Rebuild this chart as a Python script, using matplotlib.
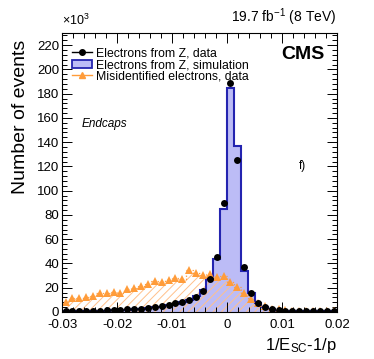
import matplotlib
matplotlib.use('Agg')
import matplotlib.pyplot as plt
from matplotlib.lines import Line2D
from matplotlib.patches import Patch
from matplotlib.ticker import MultipleLocator
import numpy as np

plt.rcParams['font.family'] = ['Liberation Sans', 'DejaVu Sans']
plt.rcParams['mathtext.fontset'] = 'custom'
plt.rcParams['mathtext.rm'] = 'Liberation Sans'
plt.rcParams['mathtext.it'] = 'Liberation Sans:italic'
plt.rcParams['hatch.linewidth'] = 0.7

# 40 bins of 0.00125 from -0.03 to 0.02, values in units of 10^3
edges = np.linspace(-0.03, 0.02, 41)
data_z = [0.8, 0.8, 0.8, 0.8, 0.9, 1.1, 1.3, 1.6, 1.7, 2.2,
          2.5, 2.8, 3.3, 4.1, 4.8, 5.8, 7.1, 8.0, 9.9, 12.6,
          17.6, 27.0, 45.0, 89.5, 189.0, 125.0, 37.3, 15.4, 7.7, 4.4,
          2.4, 1.4, 0.9, 0.7, 0.6, 0.6, 0.5, 0.5, 0.5, 0.5]
sim_z = [0.6, 0.6, 0.6, 0.7, 0.7, 0.9, 1.1, 1.3, 1.5, 1.9,
         2.2, 2.6, 3.0, 3.7, 4.5, 5.5, 6.8, 8.0, 10.0, 13.0,
         18.5, 27.5, 44.0, 85.0, 185.0, 137.0, 34.0, 15.9, 7.5, 4.0,
         2.1, 1.2, 0.8, 0.6, 0.5, 0.5, 0.4, 0.4, 0.4, 0.4]
misid = [8.3, 11.7, 11.7, 12.5, 13.3, 15.3, 15.6, 16.2, 15.6, 19.2,
         20.0, 21.5, 22.8, 25.4, 24.8, 26.6, 28.4, 27.0, 34.2, 32.5,
         30.6, 31.4, 29.2, 29.7, 25.0, 20.8, 15.3, 10.6, 7.0, 4.7,
         2.8, 2.2, 1.5, 1.2, 1.0, 0.8, 0.7, 0.6, 0.6, 0.5]

centers = 0.5 * (edges[:-1] + edges[1:])
blue_fill = '#bcbcf6'
blue_edge = '#2424b0'
orange = '#ff9c3a'

fig = plt.figure(figsize=(3.74, 3.59), dpi=100)
ax = fig.add_axes([0.166, 0.131, 0.735, 0.777])

# simulation histogram
ax.stairs(sim_z, edges, fill=True, color=blue_fill, lw=0)
# misidentified: hatched area with dotted outline
ax.stairs(misid, edges, fill=True, facecolor='none', edgecolor='#ffc08a',
          hatch='////', lw=0)
ax.stairs(misid, edges, color=orange, lw=0.9, ls=(0, (1, 1.5)))
ax.stairs(sim_z, edges, color=blue_edge, lw=1.5)

ax.plot(centers, misid, '^', color=orange, ms=5.2, mew=0)
ax.plot(centers, data_z, 'o', color='black', ms=5, mew=0)

ax.set_xlim(-0.03, 0.02)
ax.set_ylim(0, 230)
ax.xaxis.set_major_locator(MultipleLocator(0.01))
ax.xaxis.set_minor_locator(MultipleLocator(0.002))
ax.yaxis.set_major_locator(MultipleLocator(20))
ax.yaxis.set_minor_locator(MultipleLocator(4))
ax.tick_params(which='both', direction='in', top=True, right=True,
               labelsize=9.5, width=0.7)
ax.tick_params(which='major', length=7, pad=2)
ax.tick_params(axis='x', which='major', pad=5)
ax.tick_params(which='minor', length=3.5)
ax.set_xticks([-0.03, -0.02, -0.01, 0, 0.01, 0.02])
ax.set_xticklabels(['-0.03', '-0.02', '-0.01', '0', '0.01', '0.02'])
for s in ax.spines.values():
    s.set_linewidth(0.8)

ax.set_ylabel('Number of events', fontsize=14, labelpad=6, y=0.975, ha='right')
ax.set_xlabel(r'1/E$_{\mathrm{SC}}$-1/p', loc='right', fontsize=12, labelpad=4)

fig.text(0.166, 0.922, r'$\times$10$^{3}$', fontsize=9, ha='left', va='bottom')
fig.text(0.899, 0.922, r'19.7 fb$^{-1}$ (8 TeV)', fontsize=10,
         ha='right', va='bottom')
ax.text(0.955, 0.955, 'CMS', transform=ax.transAxes, fontsize=14,
        fontweight='bold', ha='right', va='top')
ax.text(0.07, 0.675, 'Endcaps', transform=ax.transAxes, fontsize=8.5,
        style='italic', ha='left', va='center')
ax.text(0.875, 0.525, 'f)', transform=ax.transAxes, fontsize=8.5,
        ha='center', va='center')

handles = [
    Line2D([], [], color='black', marker='o', ms=4, lw=1),
    Patch(facecolor=blue_fill, edgecolor=blue_edge, lw=1.3),
    Line2D([], [], color=orange, marker='^', ms=5, lw=1),
]
labels = ['Electrons from Z, data', 'Electrons from Z, simulation',
          'Misidentified electrons, data']
ax.legend(handles, labels, loc='upper left', bbox_to_anchor=(0.02, 0.965),
          frameon=False, fontsize=8.8, handlelength=1.6, handletextpad=0.3,
          labelspacing=-0.04, borderaxespad=0)

fig.savefig('out.png', dpi=100)
